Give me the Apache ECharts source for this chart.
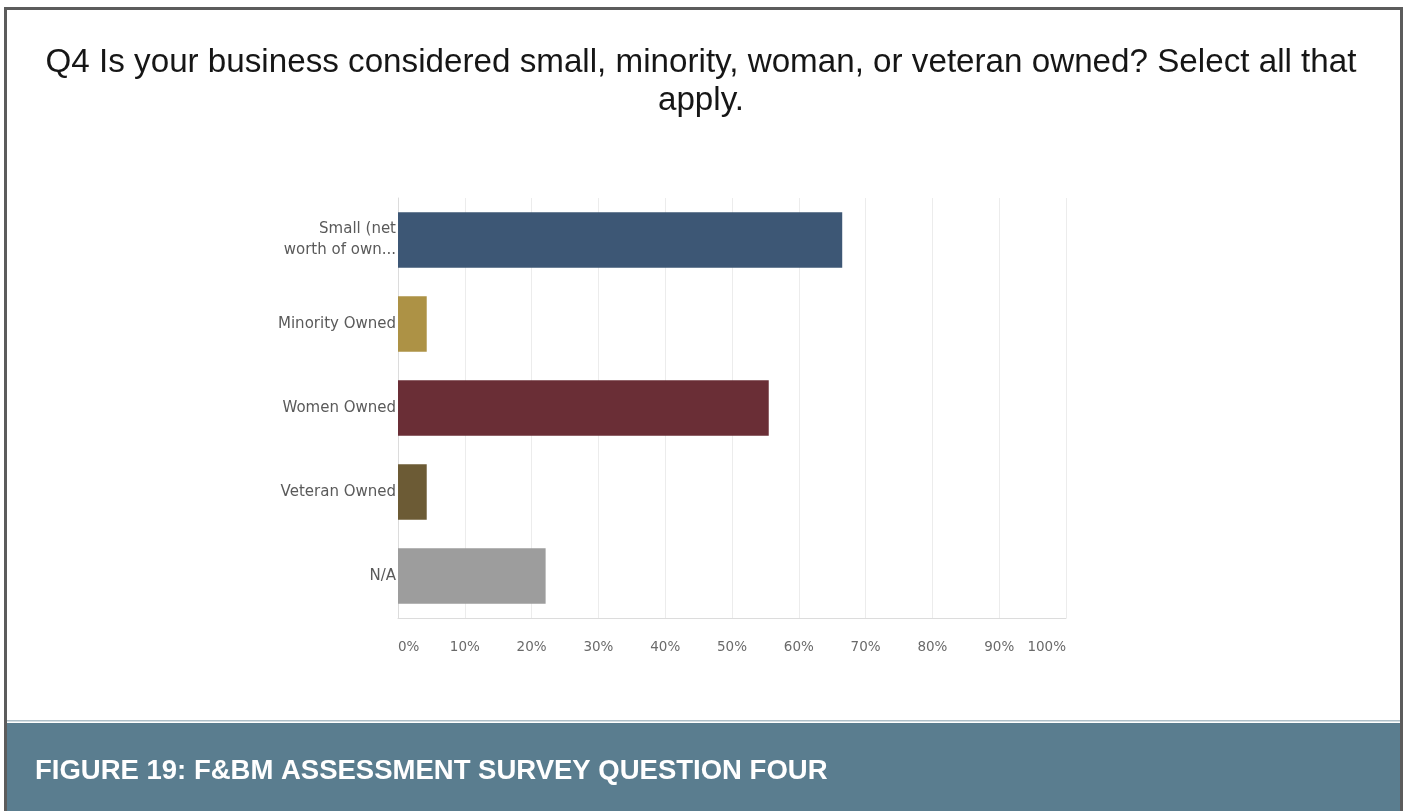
<!DOCTYPE html>
<html>
<head>
<meta charset="utf-8">
<title>Q4 Business Ownership</title>
<script src="https://cdn.jsdelivr.net/npm/echarts@6/dist/echarts.min.js"></script>
<style>
  html, body { margin: 0; padding: 0; background: #ffffff; }
  #chart { width: 1408px; height: 811px; }
</style>
</head>
<body>
<div id="chart"></div>
<script>
// Survey answers (share of respondents, %)
const categories = [
  'Small (net\nworth of own...',
  'Minority Owned',
  'Women Owned',
  'Veteran Owned',
  'N/A'
];
const shares = [66.5, 4.3, 55.5, 4.3, 22.1];
const barColors = ['#3d5775', '#ad9245', '#6a2e36', '#6c5b35', '#9d9d9d'];
const tickValues = [0, 10, 20, 30, 40, 50, 60, 70, 80, 90, 100];

const titleText = 'Q4 Is your business considered small, minority, woman, or veteran owned? Select all that\napply.';
const captionText = 'FIGURE 19: F&BM ASSESSMENT SURVEY QUESTION FOUR';

const chart = echarts.init(document.getElementById('chart'), null, { renderer: 'canvas' });

const frameColor = '#5c5c5c';

chart.setOption({
  animation: false,
  backgroundColor: '#ffffff',
  grid: { left: 398, right: 342, top: 198, bottom: 193, containLabel: false },
  xAxis: {
    type: 'value',
    min: tickValues[0],
    max: tickValues[tickValues.length - 1],
    interval: tickValues[1] - tickValues[0],
    axisLine: { show: true, lineStyle: { color: '#dcdcdc', width: 1 } },
    axisTick: { show: false },
    splitLine: { show: true, lineStyle: { color: '#ececec', width: 1 } },
    axisLabel: {
      formatter: '{value}%',
      color: '#6a6a6a',
      fontFamily: 'DejaVu Sans',
      fontSize: 13.5,
      margin: 22,
      alignMinLabel: 'left',
      alignMaxLabel: 'right'
    }
  },
  yAxis: {
    type: 'category',
    data: categories,
    inverse: true,
    axisLine: { show: true, lineStyle: { color: '#dcdcdc', width: 1 } },
    axisTick: { show: false },
    splitLine: { show: false },
    axisLabel: {
      color: '#5a5a5a',
      fontFamily: 'DejaVu Sans',
      fontSize: 15,
      lineHeight: 21,
      margin: 2,
      align: 'right'
    }
  },
  series: [{
    type: 'bar',
    data: shares.map((v, i) => ({ value: v, itemStyle: { color: barColors[i] } })),
    barCategoryGap: '34%',
    z: 3
  }],
  graphic: [
    // outer frame
    { type: 'rect', shape: { x: 4, y: 7, width: 1399, height: 3 }, style: { fill: frameColor }, silent: true },
    { type: 'rect', shape: { x: 4, y: 7, width: 3, height: 804 }, style: { fill: frameColor }, silent: true },
    { type: 'rect', shape: { x: 1400, y: 7, width: 3, height: 804 }, style: { fill: frameColor }, silent: true },
    // chart heading
    {
      type: 'text',
      x: 701,
      y: 44,
      style: {
        text: titleText,
        fill: '#161616',
        font: '33.2px "Liberation Sans", Arial, sans-serif',
        lineHeight: 38,
        align: 'center',
        verticalAlign: 'top'
      },
      silent: true
    },
    // caption band
    { type: 'rect', shape: { x: 7, y: 720, width: 1393, height: 1.5 }, style: { fill: '#aebfc8' }, silent: true },
    { type: 'rect', shape: { x: 7, y: 723, width: 1393, height: 88 }, style: { fill: '#5a7d8f' }, silent: true },
    {
      type: 'text',
      x: 35,
      y: 771,
      style: {
        text: captionText,
        fill: '#ffffff',
        font: 'bold 27.5px "Liberation Sans", Arial, sans-serif',
        align: 'left',
        verticalAlign: 'middle'
      },
      silent: true
    }
  ]
});
</script>
</body>
</html>
